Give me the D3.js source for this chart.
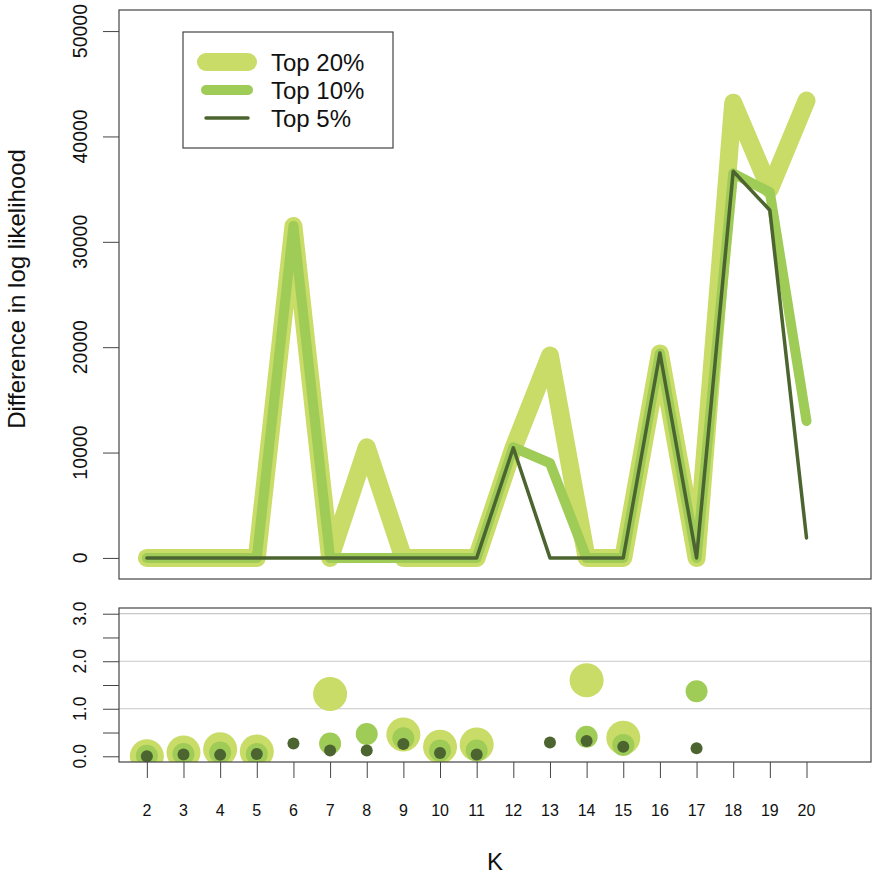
<!DOCTYPE html>
<html>
<head>
<meta charset="utf-8">
<script src="https://cdn.jsdelivr.net/npm/d3@7.9.0/dist/d3.min.js"></script>
<style>
  body { margin: 0; background: #fff; }
  svg { display: block; font-family: "Liberation Sans", Arial, Helvetica, sans-serif; }
</style>
</head>
<body>
<svg id="chart" width="872" height="879"></svg>
<script>
// K values on the x axis
const ks = [2, 3, 4, 5, 6, 7, 8, 9, 10, 11, 12, 13, 14, 15, 16, 17, 18, 19, 20];

// difference in log likelihood (top panel)
const top20 = [0, 0, 0, 0, 31500, 0, 10500, 0, 0, 0, 10400, 19200, 0, 0, 19400, 0, 43200, 35000, 43400];
const top10 = [0, 0, 0, 0, 31500, 0, 0, 0, 0, 0, 10500, 9000, 0, 0, 19400, 0, 36500, 34700, 13000];
const top5  = [0, 0, 0, 0, 0, 0, 0, 0, 0, 0, 10450, 0, 0, 0, 19450, 0, 36700, 33000, 1900];

// bottom panel points (null = no point)
const pts20 = [0.00, 0.08, 0.15, 0.10, null, 1.31, null, 0.46, 0.20, 0.25, null, null, 1.60, 0.39, null, null, null, null, null];
const pts10 = [0.01, 0.05, 0.08, 0.05, null, 0.27, 0.47, 0.38, 0.12, 0.12, null, null, 0.41, 0.24, null, 1.37, null, null, null];
const pts5  = [0.00, 0.04, 0.03, 0.05, 0.27, 0.12, 0.12, 0.26, 0.07, 0.04, null, 0.29, 0.32, 0.20, null, 0.17, null, null, null];

const topTicks = [0, 10000, 20000, 30000, 40000, 50000];
const bottomTicks = [0, 0.5, 1, 1.5, 2, 2.5, 3];
const bottomLabels = [0, 1, 2, 3];
const gridValues = [1, 2, 3];

const seriesNames = ["Top 20%", "Top 10%", "Top 5%"];
const colors = ["#c9dc67", "#9fcb57", "#4c6530"];
const lineWidths = [18, 10, 3.5];
const radii = [17, 11, 6];

let svg = d3.select("#chart");

// plot regions
let left = 119, right = 871;
let topBox = { y0: 10, y1: 579 };
let botBox = { y0: 608, y1: 762 };

// R-style 4% padding on the axis ranges
function padded(lo, hi) {
    let d = (hi - lo) * 0.04;
    return [lo - d, hi + d];
}

let x = d3.scaleLinear().domain(padded(2, 21)).range([left, right]);
let yTop = d3.scaleLinear().domain(padded(0, 50000)).range([topBox.y1, topBox.y0]);
let yBot = d3.scaleLinear().domain(padded(0, 3)).range([botBox.y1, botBox.y0]);

function styleAxis(g) {
    g.select(".domain").remove();
    g.selectAll(".tick line").attr("stroke", "#444");
}

// ---------- top panel ----------
let line = d3.line()
    .x((d, i) => x(ks[i]))
    .y(d => yTop(d));

[top20, top10, top5].forEach((values, idx) => {
    svg.append("path")
        .attr("d", line(values))
        .attr("fill", "none")
        .attr("stroke", colors[idx])
        .attr("stroke-width", lineWidths[idx])
        .attr("stroke-linejoin", "round")
        .attr("stroke-linecap", "round");
});

svg.append("rect")
    .attr("x", left).attr("y", topBox.y0)
    .attr("width", right - left).attr("height", topBox.y1 - topBox.y0)
    .attr("fill", "none").attr("stroke", "#444").attr("stroke-width", 1.2);

svg.append("g")
    .attr("transform", `translate(${left},0)`)
    .call(d3.axisLeft(yTop).tickValues(topTicks).tickSize(16).tickSizeOuter(0).tickFormat(""))
    .call(styleAxis);

topTicks.forEach(t => {
    svg.append("text")
        .attr("transform", `translate(87,${yTop(t)}) rotate(-90)`)
        .attr("text-anchor", "middle")
        .attr("font-size", 19.5)
        .attr("fill", "#111")
        .text(t);
});

svg.append("text")
    .attr("transform", `translate(25,289) rotate(-90)`)
    .attr("text-anchor", "middle")
    .attr("font-size", 24)
    .attr("fill", "#111")
    .text("Difference in log likelihood");

// legend
let legend = svg.append("g");
legend.append("rect")
    .attr("x", 183).attr("y", 32).attr("width", 210).attr("height", 116)
    .attr("fill", "#fff").attr("stroke", "#444").attr("stroke-width", 1.2);

seriesNames.forEach((name, idx) => {
    let cy = 62 + idx * 28;
    legend.append("line")
        .attr("x1", 206).attr("x2", 248)
        .attr("y1", cy).attr("y2", cy)
        .attr("stroke", colors[idx])
        .attr("stroke-width", lineWidths[idx])
        .attr("stroke-linecap", "round");
    legend.append("text")
        .attr("x", 271).attr("y", cy + 8.5)
        .attr("font-size", 24)
        .attr("fill", "#111")
        .text(name);
});

// ---------- bottom panel ----------
svg.append("clipPath").attr("id", "botClip")
    .append("rect")
    .attr("x", left).attr("y", botBox.y0)
    .attr("width", right - left).attr("height", botBox.y1 - botBox.y0);

gridValues.forEach(g => {
    svg.append("line")
        .attr("x1", left).attr("x2", right)
        .attr("y1", yBot(g)).attr("y2", yBot(g))
        .attr("stroke", "#c8c8c8")
        .attr("stroke-width", 1.2);
});

let dots = svg.append("g").attr("clip-path", "url(#botClip)");
[pts20, pts10, pts5].forEach((values, idx) => {
    values.forEach((v, i) => {
        if (v === null) return;
        dots.append("circle")
            .attr("cx", x(ks[i]))
            .attr("cy", yBot(v))
            .attr("r", radii[idx])
            .attr("fill", colors[idx]);
    });
});

svg.append("rect")
    .attr("x", left).attr("y", botBox.y0)
    .attr("width", right - left).attr("height", botBox.y1 - botBox.y0)
    .attr("fill", "none").attr("stroke", "#444").attr("stroke-width", 1.2);

svg.append("g")
    .attr("transform", `translate(${left},0)`)
    .call(d3.axisLeft(yBot).tickValues(bottomTicks).tickSize(16).tickSizeOuter(0).tickFormat(""))
    .call(styleAxis);

bottomLabels.forEach(t => {
    svg.append("text")
        .attr("transform", `translate(86,${yBot(t)}) rotate(-90)`)
        .attr("text-anchor", "middle")
        .attr("font-size", 17.5)
        .attr("fill", "#111")
        .text(d3.format(".1f")(t));
});

svg.append("g")
    .attr("transform", `translate(0,${botBox.y1})`)
    .call(d3.axisBottom(x).tickValues(ks).tickSize(16).tickSizeOuter(0).tickFormat(""))
    .call(styleAxis);

ks.forEach(k => {
    svg.append("text")
        .attr("x", x(k)).attr("y", 816)
        .attr("text-anchor", "middle")
        .attr("font-size", 16)
        .attr("fill", "#111")
        .text(k);
});

svg.append("text")
    .attr("x", (left + right) / 2).attr("y", 870)
    .attr("text-anchor", "middle")
    .attr("font-size", 24)
    .attr("fill", "#111")
    .text("K");
</script>
</body>
</html>
